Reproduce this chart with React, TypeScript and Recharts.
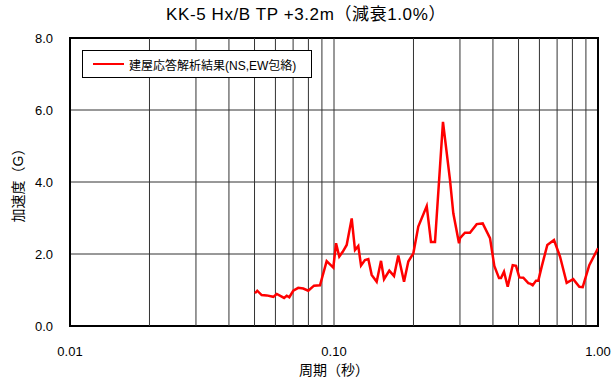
import React from 'react';
import {
  LineChart,
  Line,
  XAxis,
  YAxis,
  CartesianGrid,
  ReferenceLine,
  ReferenceArea,
  Legend,
  Label,
} from 'recharts';

const titleText = 'KK-5 Hx/B TP +3.2m（減衰1.0%）';
const seriesName = '建屋応答解析結果(NS,EW包絡)';
const xTitle = '周期（秒）';
const yTitle = '加速度（G）';

const periods = [
  0.0502, 0.0512, 0.0532, 0.0556, 0.0589, 0.0607, 0.0647, 0.0662, 0.0677, 0.0701,
  0.0732, 0.0765, 0.0799, 0.084, 0.0885, 0.0938, 0.0994, 0.1018, 0.1047, 0.1079,
  0.1117, 0.1167, 0.1201, 0.1236, 0.1266, 0.131, 0.1349, 0.1389, 0.1451, 0.1507,
  0.1547, 0.162, 0.1688, 0.1752, 0.1842, 0.1912, 0.1998, 0.2086, 0.2245, 0.233,
  0.2413, 0.2587, 0.275, 0.2831, 0.2975, 0.3001, 0.3134, 0.3274, 0.3472, 0.3658,
  0.3899, 0.4048, 0.4217, 0.4291, 0.4405, 0.455, 0.4753, 0.4892, 0.5035, 0.5212,
  0.5445, 0.556, 0.5659, 0.5825, 0.5942, 0.612, 0.6427, 0.6812, 0.718, 0.761,
  0.8059, 0.8496, 0.875, 0.9268, 1.0,
];

const accel = [
  0.91, 0.98, 0.86, 0.85, 0.81, 0.89, 0.78, 0.84, 0.8, 0.98,
  1.06, 1.04, 0.98, 1.12, 1.13, 1.8, 1.62, 2.3, 1.93, 2.06,
  2.25, 2.99, 2.11, 2.22, 1.68, 1.83, 1.86, 1.42, 1.23, 1.81,
  1.3, 1.54, 1.39, 1.96, 1.23, 1.79, 2.02, 2.76, 3.33, 2.33,
  2.33, 5.67, 4.06, 3.13, 2.3, 2.44, 2.59, 2.59, 2.83, 2.85,
  2.44, 1.67, 1.33, 1.33, 1.51, 1.09, 1.69, 1.67, 1.35, 1.34,
  1.19, 1.17, 1.13, 1.26, 1.26, 1.65, 2.25, 2.39, 1.93, 1.2,
  1.3, 1.09, 1.08, 1.69, 2.16,
];

const xTicks = [0.01, 0.1, 1];
const yTicks = [0, 2, 4, 6, 8];
const xGrid = [0.02, 0.03, 0.04, 0.05, 0.06, 0.07, 0.08, 0.09, 0.1, 0.2, 0.3, 0.4, 0.5, 0.6, 0.7, 0.8, 0.9];

const data = periods.map((p, i) => ({ period: p, accel: accel[i] }));

const FONT = "'Liberation Sans', 'Noto Sans CJK JP', sans-serif";

const LegendBox = () => (
  <div
    style={{
      border: '1px solid #000',
      background: '#fff',
      width: 230,
      height: 28,
      boxSizing: 'border-box',
      display: 'flex',
      alignItems: 'center',
      fontFamily: FONT,
      fontSize: 12,
      color: '#000',
      whiteSpace: 'nowrap',
    }}
  >
    <div style={{ width: 31, height: 2, background: '#ff0000', marginLeft: 10, marginRight: 5, flex: 'none' }} />
    <span>{seriesName}</span>
  </div>
);

export default function App() {
  return (
    <div style={{ position: 'absolute', left: 0, top: 0, width: 612, height: 382, background: '#fff' }}>
      <div
        style={{
          position: 'absolute',
          left: 0,
          top: 5,
          width: 612,
          textAlign: 'center',
          fontFamily: FONT,
          fontSize: 17,
          letterSpacing: 0.6,
          color: '#000',
          lineHeight: '20px',
        }}
      >
        {titleText}
      </div>
      <LineChart
        width={612}
        height={382}
        data={data}
        margin={{ top: 38, right: 14, bottom: 26, left: 0 }}
        style={{ fontFamily: FONT }}
      >
        <CartesianGrid horizontal vertical={false} stroke="#333" strokeWidth={1} horizontalValues={yTicks} />
        {xGrid.map((g) => (
          <ReferenceLine key={g} x={g} stroke="#333" strokeWidth={1} />
        ))}
        <XAxis
          dataKey="period"
          type="number"
          scale="log"
          domain={[0.01, 1]}
          ticks={xTicks}
          tickFormatter={(v: number) => v.toFixed(2)}
          allowDataOverflow
          height={30}
          axisLine={false}
          tickLine={false}
          tickMargin={15}
          tick={{ fill: '#000', fontSize: 13, fontFamily: FONT }}
        >
          <Label value={xTitle} position="bottom" offset={9} fill="#000" fontSize={14} fontFamily={FONT} />
        </XAxis>
        <YAxis
          type="number"
          domain={[0, 8]}
          ticks={yTicks}
          tickFormatter={(v: number) => v.toFixed(1)}
          width={70}
          axisLine={false}
          tickLine={false}
          tickMargin={11}
          tick={{ fill: '#000', fontSize: 13, fontFamily: FONT }}
        >
          <Label
            content={() => (
              <text
                x={18}
                y={182}
                transform="rotate(-90 18 182)"
                textAnchor="middle"
                dominantBaseline="central"
                fill="#000"
                fontSize={14}
                fontFamily={FONT}
              >
                {yTitle}
              </text>
            )}
          />
        </YAxis>
        <ReferenceArea x1={0.01} x2={1} y1={0} y2={8} fill="none" stroke="#000" strokeWidth={2} />
        <Legend
          layout="vertical"
          align="center"
          verticalAlign="middle"
          wrapperStyle={{ left: 82, top: 50, width: 'auto' }}
          content={() => <LegendBox />}
        />
        <Line
          dataKey="accel"
          stroke="#ff0000"
          strokeWidth={2.5}
          dot={false}
          isAnimationActive={false}
          name={seriesName}
        />
      </LineChart>
    </div>
  );
}
